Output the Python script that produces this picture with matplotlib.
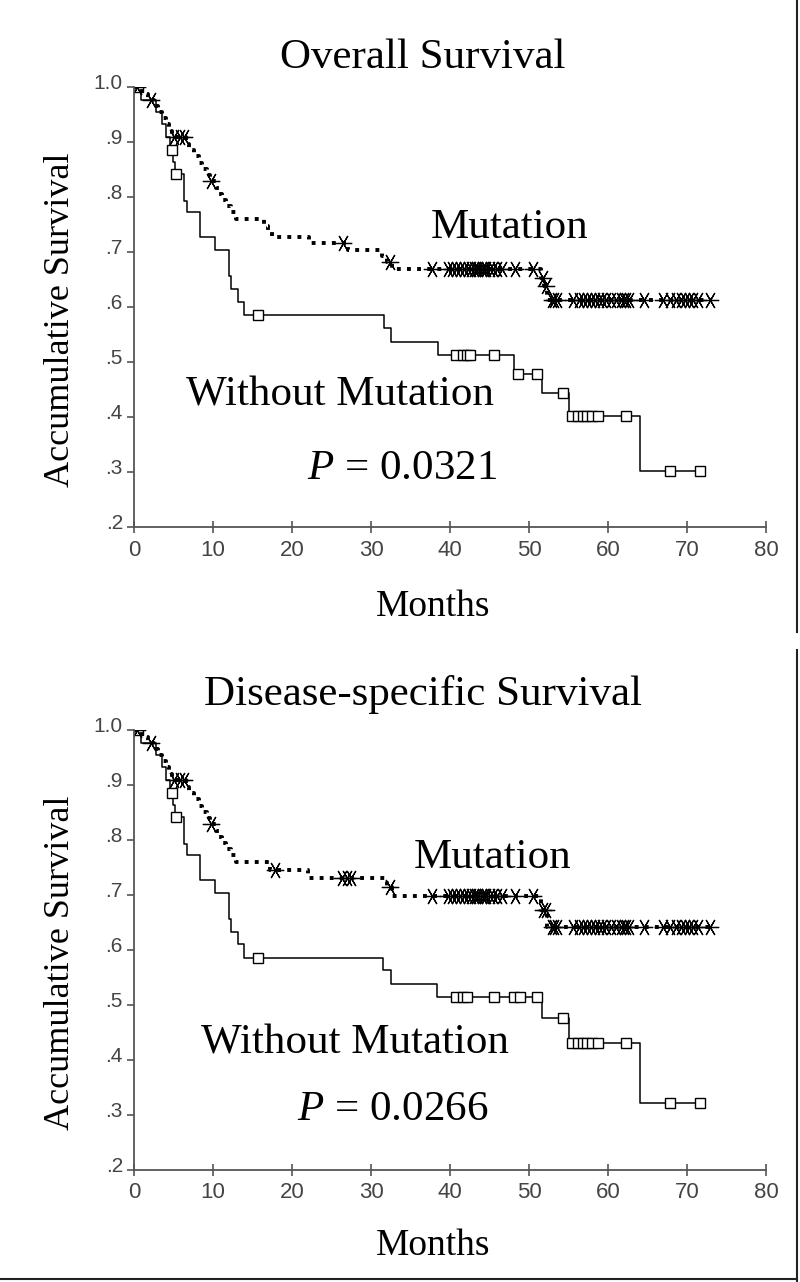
import numpy as np
import matplotlib
matplotlib.use("Agg")
import matplotlib.pyplot as plt
from matplotlib.lines import Line2D
from matplotlib.transforms import ScaledTranslation

# ----- data -----
# Overall survival
os_wo_times = [0.9, 2.8, 3.6, 4.1, 4.5, 4.9, 5.2, 6.3, 6.75, 8.3, 10.25, 12.05,
               12.3, 13.2, 13.9, 31.6, 32.5, 38.5, 48.1, 51.7, 55.0, 64.05]
os_wo_surv = [0.977, 0.955, 0.932, 0.909, 0.886, 0.864, 0.842, 0.793, 0.773, 0.727,
              0.704, 0.657, 0.633, 0.610, 0.586, 0.561, 0.537, 0.512, 0.479, 0.443,
              0.402, 0.302]
os_wo_cens = [0.5, 4.8, 5.3, 15.65, 40.8, 41.7, 42.2, 42.5, 45.6, 48.6, 51.0, 54.3,
              55.5, 56.2, 56.8, 57.4, 58.0, 58.7, 62.3, 67.8, 71.7]
os_wo_end = 71.9

os_mu_times = [1.0, 1.8, 2.5, 3.0, 3.6, 4.0, 4.4, 4.8, 6.6, 7.0, 7.6, 8.2, 8.6, 9.2,
               9.6, 10.4, 10.8, 11.2, 11.6, 12.3, 12.9, 16.5, 17.0, 17.5, 22.1, 27.1,
               31.4, 32.0, 32.6, 51.5, 51.9, 52.3]
os_mu_surv = [0.988, 0.977, 0.966, 0.955, 0.943, 0.932, 0.920, 0.909, 0.897, 0.886,
              0.874, 0.862, 0.851, 0.840, 0.829, 0.817, 0.806, 0.795, 0.783, 0.772,
              0.760, 0.748, 0.737, 0.728, 0.716, 0.703, 0.692, 0.681, 0.669, 0.653,
              0.638, 0.613]
os_mu_cens = [0.4, 2.2, 5.0, 5.8, 6.3, 9.7, 26.5, 32.4, 37.7, 39.7, 40.3, 40.8, 41.3,
              41.8, 42.3, 42.7, 43.0, 43.3, 43.6, 44.0, 44.3, 44.6, 45.0, 45.5, 46.0,
              46.6, 48.2, 50.5, 51.8, 52.1, 52.9, 53.2, 53.5, 55.6, 56.3, 56.8, 57.3,
              57.8, 58.3, 58.8, 59.3, 59.8, 60.4, 61.0, 61.6, 62.0, 62.3, 62.7, 64.5,
              67.0, 67.8, 68.6, 69.2, 69.8, 70.3, 70.8, 71.4, 72.9]
os_mu_end = 73.0

# Disease-specific survival
ds_wo_times = [0.9, 2.8, 3.6, 4.1, 4.5, 4.9, 5.2, 6.3, 6.75, 8.3, 10.25, 12.05,
               12.3, 13.2, 13.9, 31.5, 32.5, 38.4, 51.7, 55.0, 64.05]
ds_wo_surv = [0.977, 0.955, 0.932, 0.909, 0.886, 0.864, 0.842, 0.793, 0.773, 0.727,
              0.704, 0.657, 0.633, 0.610, 0.586, 0.563, 0.539, 0.514, 0.476, 0.430,
              0.322]
ds_wo_cens = [0.5, 4.8, 5.3, 15.65, 40.8, 41.7, 42.2, 45.6, 48.1, 48.8, 51.0, 54.3,
              55.5, 56.2, 56.8, 57.4, 58.0, 58.7, 62.3, 67.8, 71.7]
ds_wo_end = 71.9

ds_mu_times = [1.0, 1.8, 2.5, 3.0, 3.6, 4.0, 4.4, 4.8, 6.6, 7.0, 7.6, 8.2, 8.6, 9.2,
               9.6, 10.4, 10.8, 11.2, 11.6, 12.3, 12.9, 17.2, 22.0, 32.0, 32.6, 51.5,
               52.3]
ds_mu_surv = [0.988, 0.977, 0.966, 0.955, 0.943, 0.932, 0.920, 0.909, 0.897, 0.886,
              0.874, 0.862, 0.851, 0.840, 0.829, 0.817, 0.806, 0.795, 0.783, 0.772,
              0.760, 0.745, 0.730, 0.714, 0.699, 0.672, 0.641]
ds_mu_cens = [0.4, 2.2, 5.0, 5.8, 6.3, 9.7, 17.8, 26.3, 26.9, 27.5, 32.4, 37.7, 39.7,
              40.3, 40.8, 41.3, 41.8, 42.3, 42.7, 43.0, 43.3, 43.6, 44.0, 44.3, 44.6,
              45.0, 45.5, 46.0, 46.6, 48.2, 50.5, 51.8, 52.1, 52.9, 53.2, 53.5, 55.6,
              56.3, 56.8, 57.3, 57.8, 58.3, 58.8, 59.3, 59.8, 60.4, 61.0, 61.6, 62.0,
              62.3, 62.7, 64.5, 67.0, 67.8, 68.6, 69.2, 69.8, 70.3, 70.8, 71.4, 72.9]
ds_mu_end = 73.0

titles = ["Overall Survival", "Disease-specific Survival"]
p_values = ["0.0321", "0.0266"]
xticks = [0, 10, 20, 30, 40, 50, 60, 70, 80]
yticks = [0.2, 0.3, 0.4, 0.5, 0.6, 0.7, 0.8, 0.9, 1.0]
ytick_labels = [".2", ".3", ".4", ".5", ".6", ".7", ".8", ".9", "1.0"]

SERIF = ["Liberation Serif", "DejaVu Serif"]
TICKFONT = ["Liberation Sans Narrow", "Liberation Sans", "DejaVu Sans"]
GREY = "#555555"


def step_xy(times, surv, end):
    x = [0.0] + list(times) + [end]
    y = [1.0] + list(surv) + [surv[-1]]
    return x, y


def cens_y(times, surv, cens):
    t = np.array([0.0] + list(times))
    s = np.array([1.0] + list(surv))
    idx = np.searchsorted(t, cens, side="right") - 1
    return s[idx]


def km_panel(ax, wo, mu, title, pval, lab_pos):
    # without mutation: thin solid line, open squares
    x, y = step_xy(wo[0], wo[1], wo[3])
    ax.plot(x, y, drawstyle="steps-post", color="black", lw=1.1)
    ax.plot(wo[2], cens_y(wo[0], wo[1], wo[2]), ls="none", marker="s", ms=7,
            mfc="white", mec="black", mew=1.0)
    # mutation: heavy dotted line, asterisks
    x, y = step_xy(mu[0], mu[1], mu[3])
    ax.plot(x, y, drawstyle="steps-post", color="black", lw=2.8,
            ls=(0, (1, 1.6)))
    ax.plot(mu[2], cens_y(mu[0], mu[1], mu[2]), ls="none", marker=(6, 2, 90),
            ms=12.5, color="black", mew=0.9)

    ax.set_xlim(0, 80)
    ax.set_ylim(0.2, 1.0)
    ax.spines[["top", "right"]].set_visible(False)
    for sp in ("left", "bottom"):
        ax.spines[sp].set_color(GREY)
        ax.spines[sp].set_linewidth(1.3)
    ax.set_xticks(xticks)
    ax.set_yticks(yticks)
    ax.set_yticklabels(ytick_labels)
    ax.tick_params(axis="x", direction="inout", length=8, width=1.2, color=GREY,
                   pad=5, labelsize=16, labelcolor="#444444")
    ax.tick_params(axis="y", direction="out", length=5, width=1.2, color=GREY,
                   pad=3, labelsize=15, labelcolor="#444444")
    for lab in ax.get_xticklabels() + ax.get_yticklabels():
        lab.set_family(TICKFONT)
    # y tick labels sit a little above their ticks in the reference
    shift = ScaledTranslation(0, 4 / 72, ax.figure.dpi_scale_trans)
    for lab in ax.get_yticklabels():
        lab.set_transform(lab.get_transform() + shift)

    ax.set_xlabel("Months", family=SERIF, fontsize=27)
    ax.xaxis.set_label_coords(0.473, lab_pos[0])
    ax.set_ylabel("Accumulative Survival", family=SERIF, fontsize=26)
    ax.yaxis.set_label_coords(-0.09, 0.47)
    ax.text(0.457, lab_pos[1], title, transform=ax.transAxes, ha="center",
            va="center", family=SERIF, fontsize=31)

    ax.text(*lab_pos[2], "Mutation", ha="center", va="center", family=SERIF,
            fontsize=31)
    ax.text(*lab_pos[3], "Without Mutation", ha="center", va="center",
            family=SERIF, fontsize=31)
    ax.text(*lab_pos[4], "$\\mathit{P}$ = " + pval, ha="center", va="center",
            family=SERIF, fontsize=31)


plt.rcParams["mathtext.fontset"] = "custom"
plt.rcParams["mathtext.it"] = "Liberation Serif:italic"

fig = plt.figure(figsize=(8.0, 12.82), dpi=100)
ax1 = fig.add_axes([0.1675, 0.5889, 0.79, 0.3432])
ax2 = fig.add_axes([0.1675, 0.0874, 0.79, 0.3432])

km_panel(ax1,
         (os_wo_times, os_wo_surv, os_wo_cens, os_wo_end),
         (os_mu_times, os_mu_surv, os_mu_cens, os_mu_end),
         titles[0], p_values[0],
         (-0.141, 1.066, (47.6, 0.744), (26.1, 0.44), (33.9, 0.306)))
km_panel(ax2,
         (ds_wo_times, ds_wo_surv, ds_wo_cens, ds_wo_end),
         (ds_mu_times, ds_mu_surv, ds_mu_cens, ds_mu_end),
         titles[1], p_values[1],
         (-0.133, 1.08, (45.4, 0.767), (28.0, 0.43), (32.8, 0.31)))

# panel frames seen on the right / bottom edges
fig.add_artist(Line2D([0.9965, 0.9965], [1.0, 1 - 632 / 1282], transform=fig.transFigure,
                      color="#222222", lw=1.5))
fig.add_artist(Line2D([0.9965, 0.9965], [1 - 650 / 1282, 0.0], transform=fig.transFigure,
                      color="#222222", lw=1.5))
fig.add_artist(Line2D([0.0, 0.9965], [1 - 1279 / 1282, 1 - 1279 / 1282],
                      transform=fig.transFigure, color="#222222", lw=1.5))

fig.savefig("out.png", dpi=100, facecolor="white")
